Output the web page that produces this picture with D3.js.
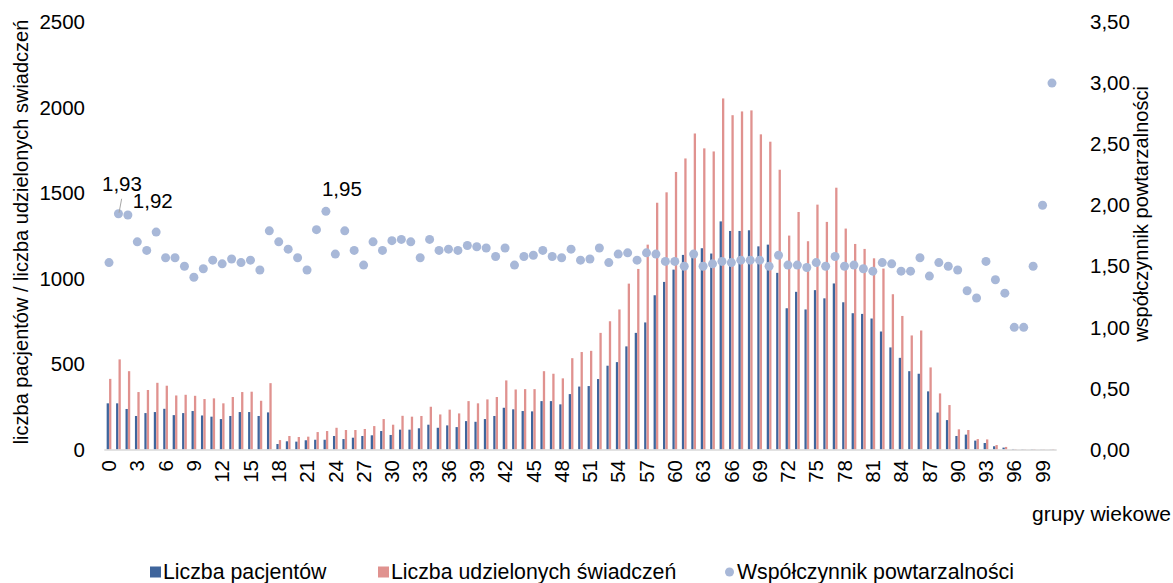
<!DOCTYPE html>
<html>
<head>
<meta charset="utf-8">
<script src="https://cdn.jsdelivr.net/npm/d3@7"></script>
<style>
  body { margin: 0; background: #fff; }
  svg text { font-family: "Liberation Sans", Arial, sans-serif; fill: #000; }
</style>
</head>
<body>
<div id="chart"></div>
<script>
// age groups 0..100
const ages = [0,1,2,3,4,5,6,7,8,9,10,11,12,13,14,15,16,17,18,19,20,21,22,23,24,25,26,27,28,29,30,31,32,33,34,35,36,37,38,39,40,41,42,43,44,45,46,47,48,49,50,51,52,53,54,55,56,57,58,59,60,61,62,63,64,65,66,67,68,69,70,71,72,73,74,75,76,77,78,79,80,81,82,83,84,85,86,87,88,89,90,91,92,93,94,95,96,97,98,99,100];
const xTickLabels = [0,3,6,9,12,15,18,21,24,27,30,33,36,39,42,45,48,51,54,57,60,63,66,69,72,75,78,81,84,87,90,93,96,99];

const patients = [270,270,237,196,213,219,238,201,213,225,199,192,178,196,219,219,196,217,32,48,
  46,54,57,57,79,61,69,79,83,108,85,116,116,124,145,127,141,131,166,162,
  178,196,244,235,225,223,283,283,264,324,368,371,412,490,511,603,682,743,902,980,
  1052,1138,1158,1177,1146,1334,1278,1278,1282,1188,1198,1033,826,922,819,932,884,971,861,797,
  793,766,690,597,536,458,443,340,216,172,79,87,52,38,19,11,3,2,2,1,1];

const services = [413,527,458,336,348,390,373,316,320,314,295,299,270,307,336,338,285,388,55,79,
  73,75,102,108,127,114,114,120,137,178,145,197,192,196,250,205,233,211,283,270,
  293,307,404,351,353,353,458,443,416,534,570,577,682,750,819,970,1056,1198,1443,1504,
  1623,1702,1848,1761,1743,2053,1955,1977,1983,1843,1800,1636,1251,1389,1218,1432,1331,1531,1292,1202,
  1173,1118,1058,908,781,667,696,480,328,260,118,114,61,59,26,15,3,2,3,2,3];

const ratio = [1.53,1.93,1.92,1.70,1.63,1.78,1.57,1.57,1.50,1.41,1.48,1.55,1.52,1.56,1.53,1.55,1.47,1.79,1.70,1.64,
  1.57,1.47,1.80,1.95,1.60,1.79,1.63,1.51,1.70,1.63,1.71,1.72,1.70,1.57,1.72,1.63,1.64,1.63,1.67,1.66,
  1.65,1.58,1.65,1.51,1.58,1.59,1.63,1.58,1.57,1.64,1.55,1.56,1.65,1.53,1.60,1.61,1.55,1.61,1.60,1.54,
  1.54,1.50,1.60,1.50,1.52,1.54,1.53,1.55,1.55,1.55,1.50,1.59,1.51,1.51,1.49,1.53,1.50,1.58,1.50,1.51,
  1.48,1.46,1.53,1.52,1.46,1.46,1.57,1.42,1.53,1.50,1.47,1.30,1.24,1.54,1.39,1.28,1.00,1.00,1.50,2.00,3.00];

const leftTicks = [0,500,1000,1500,2000,2500];
const rightTicks = [0,0.5,1,1.5,2,2.5,3,3.5];
const labelled = [1, 2, 23]; // points carrying a value label

const colPatients = "#3F659C", colServices = "#E0928F", colRatio = "#A8B8D8";

const W = 1173, H = 583;
const plot = {left: 104.3, right: 1056.7, top: 22, bottom: 449.5};

const svg = d3.select("#chart").append("svg")
    .attr("width", W).attr("height", H);

const x = d3.scaleBand()
    .domain(ages)
    .range([plot.left, plot.right])
    .paddingInner(0.5)
    .paddingOuter(0.25);

const xSub = d3.scaleBand()
    .domain(["p", "s"])
    .range([0, x.bandwidth()])
    .paddingInner(0.05);

const y = d3.scaleLinear().domain([0, 2500]).range([plot.bottom, plot.top]);
const y2 = d3.scaleLinear().domain([0, 3.5]).range([plot.bottom, plot.top]);

const comma = v => d3.format(".2f")(v).replace(".", ",");

// bars
svg.append("g").selectAll("rect").data(ages).enter().append("rect")
    .attr("x", (d, i) => x(d) + xSub("p"))
    .attr("width", xSub.bandwidth())
    .attr("y", (d, i) => y(patients[i]))
    .attr("height", (d, i) => y(0) - y(patients[i]))
    .attr("fill", colPatients);

svg.append("g").selectAll("rect").data(ages).enter().append("rect")
    .attr("x", (d, i) => x(d) + xSub("s"))
    .attr("width", xSub.bandwidth())
    .attr("y", (d, i) => y(services[i]))
    .attr("height", (d, i) => y(0) - y(services[i]))
    .attr("fill", colServices);

// baseline
svg.append("line")
    .attr("x1", plot.left).attr("x2", plot.right)
    .attr("y1", y(0) + 0.5).attr("y2", y(0) + 0.5)
    .attr("stroke", "#d9d9d9").attr("stroke-width", 1.5);

// ratio points
svg.append("g").selectAll("circle").data(ages).enter().append("circle")
    .attr("cx", d => x(d) + x.bandwidth() / 2)
    .attr("cy", (d, i) => y2(ratio[i]))
    .attr("r", 4.5)
    .attr("fill", colRatio);

// value labels
const cx = i => x(ages[i]) + x.bandwidth() / 2;
svg.append("line")
    .attr("x1", cx(1) + 3.2).attr("y1", y2(ratio[1]) - 15)
    .attr("x2", cx(1) + 0.6).attr("y2", y2(ratio[1]) - 1)
    .attr("stroke", "#a6a6a6").attr("stroke-width", 1);
svg.append("text").attr("x", cx(1) + 3.5).attr("y", y2(ratio[1]) - 23)
    .attr("text-anchor", "middle").attr("font-size", 20.5).text(comma(ratio[1]));
svg.append("text").attr("x", cx(2) + 5).attr("y", y2(ratio[2]) - 7)
    .attr("text-anchor", "start").attr("font-size", 20.5).text(comma(ratio[2]));
svg.append("text").attr("x", cx(23) - 4).attr("y", y2(ratio[23]) - 15)
    .attr("text-anchor", "start").attr("font-size", 20.5).text(comma(ratio[23]));

// left axis labels
svg.append("g").selectAll("text").data(leftTicks).enter().append("text")
    .attr("x", 85).attr("y", d => y(d)).attr("dy", "0.35em")
    .attr("text-anchor", "end").attr("font-size", 20.5)
    .text(d => d);

// right axis labels
svg.append("g").selectAll("text").data(rightTicks).enter().append("text")
    .attr("x", 1090).attr("y", d => y2(d)).attr("dy", "0.35em")
    .attr("text-anchor", "start").attr("font-size", 20.5)
    .text(d => comma(d));

// x tick labels
svg.append("g").selectAll("text").data(xTickLabels).enter().append("text")
    .attr("transform", d => "translate(" + (x(d) + x.bandwidth() / 2) + ",460) rotate(-90)")
    .attr("dy", "0.35em")
    .attr("text-anchor", "end").attr("font-size", 20.5)
    .text(d => d);

// axis titles
svg.append("text")
    .attr("transform", "translate(21,232) rotate(-90)")
    .attr("dy", "0.35em").attr("text-anchor", "middle").attr("font-size", 20)
    .text("liczba pacjentów / liczba udzielonych swiadczeń");

svg.append("text")
    .attr("transform", "translate(1141,214) rotate(-90)")
    .attr("dy", "0.35em").attr("text-anchor", "middle").attr("font-size", 20)
    .text("współczynnik powtarzalności");

svg.append("text")
    .attr("x", 1171).attr("y", 521)
    .attr("text-anchor", "end").attr("font-size", 21)
    .text("grupy wiekowe");

// legend
const legend = [
  {name: "Liczba pacjentów", color: colPatients, type: "rect", x: 150},
  {name: "Liczba udzielonych świadczeń", color: colServices, type: "rect", x: 378},
  {name: "Współczynnik powtarzalności", color: colRatio, type: "circle", x: 724}
];
const lg = svg.append("g").selectAll("g").data(legend).enter().append("g")
    .attr("transform", d => "translate(" + d.x + ",572)");
lg.filter(d => d.type === "rect").append("rect")
    .attr("x", 0).attr("y", -5.5).attr("width", 11).attr("height", 11)
    .attr("fill", d => d.color);
lg.filter(d => d.type === "circle").append("circle")
    .attr("cx", 5.5).attr("cy", 0).attr("r", 4.5)
    .attr("fill", d => d.color);
lg.append("text")
    .attr("x", 13).attr("dy", "0.35em").attr("font-size", 21.3)
    .text(d => d.name);
</script>
</body>
</html>
